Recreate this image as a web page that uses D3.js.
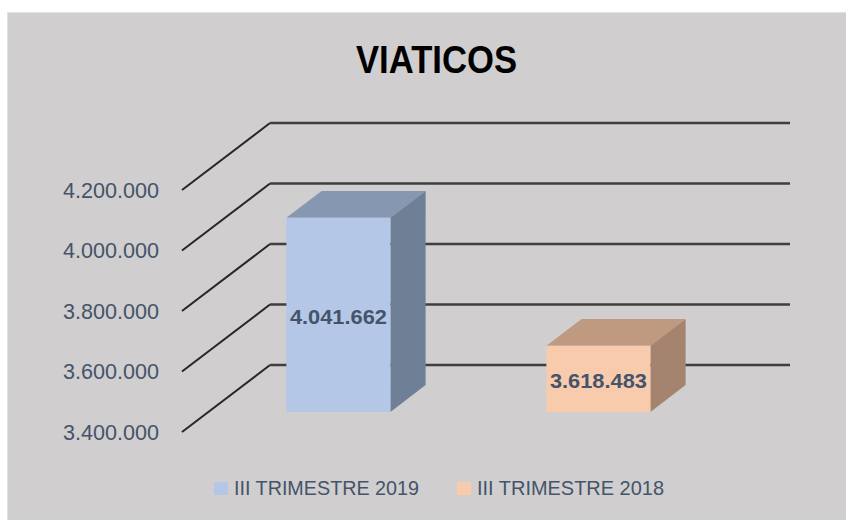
<!DOCTYPE html>
<html>
<head>
<meta charset="utf-8">
<script src="https://cdn.jsdelivr.net/npm/d3@7"></script>
<style>
  html, body { margin: 0; padding: 0; background: #ffffff; }
  svg { display: block; }
</style>
</head>
<body>
<div id="container"></div>
<script>
const categories = ["III TRIMESTRE 2019", "III TRIMESTRE 2018"]
const values = [4041662, 3618483]
const ticks = [3400000, 3600000, 3800000, 4000000, 4200000]
const frontColors = ["#b4c7e7", "#f8cbad"]
const topColors = ["#8697b1", "#bf9a81"]
const sideColors = ["#6f7f96", "#a5846f"]

const width = 846
const height = 520
// depth of the 3d floor (back wall offset)
const depth = {dx: 88, dy: -67}

const locale = d3.formatLocale({decimal: ",", thousands: ".", grouping: [3], currency: ["$", ""]})
const fmt = locale.format(",d")

const svg = d3.create("svg")
    .attr("width", width)
    .attr("height", height)

svg.append("rect")
    .attr("x", 7.5).attr("y", 12.5)
    .attr("width", width - 7).attr("height", height - 12)
    .attr("fill", "#d0cece")
    .attr("stroke", "#dde2e8")

const x = d3.scaleBand()
    .domain(categories)
    .range([182, 702])
    .paddingInner(0.6)
    .paddingOuter(0.3)

const y = d3.scaleLinear()
    .domain([3400000, 4200000])
    .range([432, 190])

svg.append("text")
    .attr("x", 436.5)
    .attr("y", 73)
    .attr("text-anchor", "middle")
    .attr("textLength", 161)
    .attr("lengthAdjust", "spacingAndGlyphs")
    .style("font-family", "'Liberation Sans', Arial, sans-serif")
    .style("font-weight", "bold")
    .style("font-size", "39px")
    .attr("fill", "#000")
    .text("VIATICOS")

// gridlines: diagonal on the side wall, horizontal on the back wall
const grid = svg.append("g")
grid.selectAll(".diag")
    .data(ticks)
    .join("line")
    .attr("x1", x.range()[0])
    .attr("y1", d => y(d))
    .attr("x2", x.range()[0] + depth.dx)
    .attr("y2", d => y(d) + depth.dy)
    .attr("stroke", "#262626")
    .attr("stroke-width", 2)

grid.selectAll(".back")
    .data(ticks)
    .join("line")
    .attr("x1", x.range()[0] + depth.dx)
    .attr("y1", d => y(d) + depth.dy)
    .attr("x2", x.range()[1] + depth.dx)
    .attr("y2", d => y(d) + depth.dy)
    .attr("stroke", "#3f3f3f")
    .attr("stroke-width", 2.4)

svg.append("g")
    .selectAll("text")
    .data(ticks)
    .join("text")
    .attr("x", 159)
    .attr("y", d => y(d))
    .attr("dy", "0.36em")
    .attr("text-anchor", "end")
    .attr("textLength", 96)
    .attr("lengthAdjust", "spacingAndGlyphs")
    .style("font-family", "'Liberation Sans', Arial, sans-serif")
    .style("font-size", "22px")
    .attr("fill", "#44546a")
    .text(d => fmt(d))

// bars sit between 30% and 70% of the floor depth
const z0 = 0.3, z1 = 0.7
const bars = svg.append("g")
    .selectAll("g")
    .data(categories.map((c, i) => ({c, v: values[i], i})))
    .join("g")

const fx = d => x(d.c) + depth.dx * z0
const fy = v => y(v) + depth.dy * z0
const bw = x.bandwidth()
const ox = depth.dx * (z1 - z0), oy = depth.dy * (z1 - z0)
const base = y.domain()[0]

bars.append("path")
    .attr("fill", d => topColors[d.i])
    .attr("d", d => {
        const x0 = fx(d), yt = fy(d.v)
        return `M${x0},${yt}L${x0 + ox},${yt + oy}L${x0 + bw + ox},${yt + oy}L${x0 + bw},${yt}Z`
    })

bars.append("path")
    .attr("fill", d => sideColors[d.i])
    .attr("d", d => {
        const x1 = fx(d) + bw, yt = fy(d.v), yb = fy(base)
        return `M${x1},${yt}L${x1 + ox},${yt + oy}L${x1 + ox},${yb + oy}L${x1},${yb}Z`
    })

bars.append("rect")
    .attr("fill", d => frontColors[d.i])
    .attr("x", d => fx(d))
    .attr("y", d => fy(d.v))
    .attr("width", bw)
    .attr("height", d => fy(base) - fy(d.v))

bars.append("text")
    .attr("x", d => fx(d) + bw / 2)
    .attr("y", d => (fy(d.v) + fy(base)) / 2 + 2)
    .attr("dy", "0.36em")
    .attr("text-anchor", "middle")
    .attr("textLength", 97)
    .attr("lengthAdjust", "spacingAndGlyphs")
    .style("font-family", "'Liberation Sans', Arial, sans-serif")
    .style("font-weight", "bold")
    .style("font-size", "21px")
    .attr("fill", "#44546a")
    .text(d => fmt(d.v))

// legend
const legendX = [214, 457]
const legendW = [185, 187]
const legend = svg.append("g")
    .selectAll("g")
    .data(categories)
    .join("g")
    .attr("transform", (d, i) => `translate(${legendX[i]}, 482)`)

legend.append("rect")
    .attr("width", 14)
    .attr("height", 13)
    .attr("fill", (d, i) => frontColors[i])

legend.append("text")
    .attr("x", 20)
    .attr("y", 12.5)
    .attr("textLength", (d, i) => legendW[i])
    .attr("lengthAdjust", "spacingAndGlyphs")
    .style("font-family", "'Liberation Sans', Arial, sans-serif")
    .style("font-size", "21px")
    .attr("fill", "#44546a")
    .text(d => d)

document.querySelector("#container").appendChild(svg.node())
</script>
</body>
</html>
